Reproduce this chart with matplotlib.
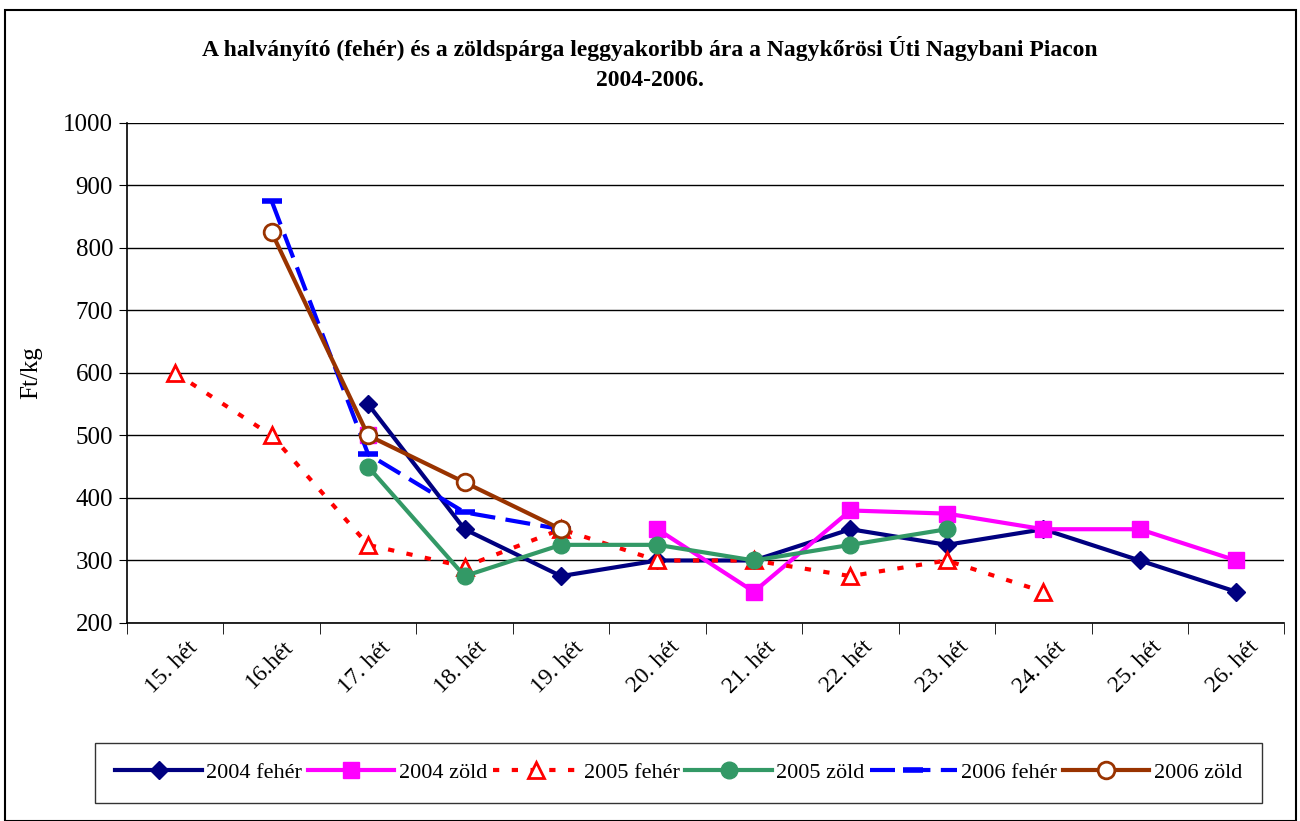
import numpy as np
import matplotlib.pyplot as plt
from matplotlib.patches import Rectangle

nan = np.nan

# weeks on x axis
weeks = ["15. hét", "16.hét", "17. hét", "18. hét", "19. hét", "20. hét",
         "21. hét", "22. hét", "23. hét", "24. hét", "25. hét", "26. hét"]

# prices Ft/kg
feher_2004 = [nan, nan, 550, 350, 275, 300, 300, 350, 325, 350, 300, 250]
zold_2004 = [nan, nan, 500, nan, nan, 350, 250, 380, 375, 350, 350, 300]
feher_2005 = [600, 500, 325, 290, 350, 300, 300, 275, 300, 250, nan, nan]
zold_2005 = [nan, nan, 450, 275, 325, 325, 300, 325, 350, nan, nan, nan]
feher_2006 = [nan, 875, 470, 377, 350, nan, nan, nan, nan, nan, nan, nan]
zold_2006 = [nan, 825, 500, 425, 350, nan, nan, nan, nan, nan, nan, nan]

plt.rcParams['font.family'] = ['Liberation Serif', 'DejaVu Serif']

fig = plt.figure(figsize=(13, 8.21), dpi=100)
ax = fig.add_axes([0.0977, 0.2412, 0.8903, 0.609])

x = np.arange(len(weeks))

ax.plot(x, feher_2004, color='#000080', lw=3, marker='D', ms=9,
        label='2004 fehér', zorder=3)
ax.plot(x, zold_2004, color='#FF00FF', lw=3, marker='s', ms=12,
        label='2004 zöld', zorder=3)
ax.plot(x, feher_2005, color='#FF0000', lw=3, linestyle=(0, (1.5, 3)),
        marker='^', ms=12, mfc='white', mec='#FF0000', mew=2,
        label='2005 fehér', zorder=3)
ax.plot(x, zold_2005, color='#339966', lw=3, marker='o', ms=12,
        label='2005 zöld', zorder=3)
ax.plot(x, feher_2006, color='#0000FF', lw=3, linestyle=(0, (6, 2.5)),
        marker='_', ms=14, mew=4, label='2006 fehér', zorder=3)
ax.plot(x, zold_2006, color='#993300', lw=3, marker='o', ms=12,
        mfc='white', mec='#993300', mew=2, label='2006 zöld', zorder=4)

ax.set_xlim(-0.5, len(weeks) - 0.5)
ax.set_ylim(200, 1000)
ax.set_yticks(range(200, 1001, 100))
ax.yaxis.grid(True, color='black', lw=1)
ax.set_axisbelow(True)
ax.tick_params(axis='y', labelsize=18, length=6, direction='out', pad=4)

# labels sit a little right of the category centre, as in Excel
ax.set_xticks(x + 0.12)
ax.set_xticklabels(weeks, rotation=45, ha='right', va='top',
                   rotation_mode='anchor', fontsize=17)
ax.set_xticks(np.arange(-0.5, len(weeks)), minor=True)
ax.tick_params(axis='x', which='major', length=0, pad=10)
ax.tick_params(axis='x', which='minor', length=8)

for s in ['top', 'right']:
    ax.spines[s].set_visible(False)
ax.spines['left'].set_linewidth(1.2)
ax.spines['bottom'].set_linewidth(1.2)

ax.set_ylabel('Ft/kg', fontsize=18)
ax.yaxis.set_label_coords(-0.073, 0.5)

fig.text(0.5, 0.923, 'A halványító (fehér) és a zöldspárga leggyakoribb ára a Nagykőrösi Úti Nagybani Piacon\n2004-2006.',
         ha='center', va='center', fontsize=17, fontweight='bold', linespacing=1.55)

leg = fig.legend(loc='center', bbox_to_anchor=(0.522, 0.0585), ncol=6,
                 fontsize=16, frameon=True, fancybox=False, edgecolor='black',
                 handlelength=3.9, handletextpad=0.2, columnspacing=0.25,
                 borderpad=0.9, borderaxespad=0.2)
leg.get_frame().set_linewidth(1)

fig.patches.append(Rectangle((0.004, 0.0), 0.993, 0.988, transform=fig.transFigure,
                             fill=False, edgecolor='black', lw=1.5))

fig.savefig('out.png', dpi=100)
